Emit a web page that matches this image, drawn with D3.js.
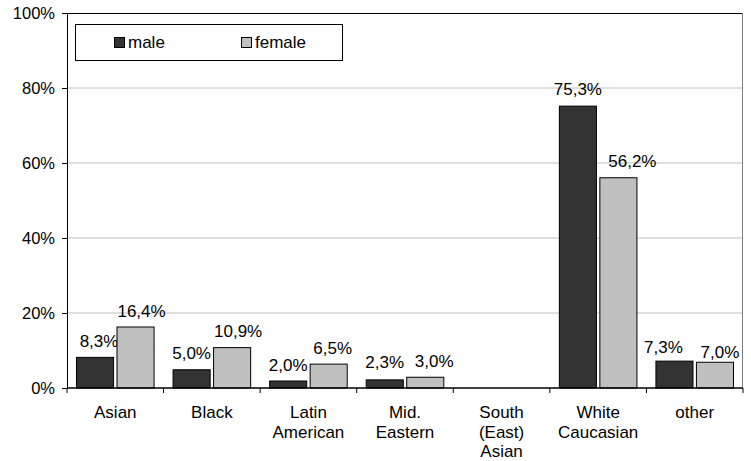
<!DOCTYPE html>
<html>
<head>
<meta charset="utf-8">
<script src="https://cdn.jsdelivr.net/npm/d3@7"></script>
<style>
  body { margin: 0; background: #fff; }
  svg text { font-family: "Liberation Sans", Arial, sans-serif; font-size: 17px; fill: #000; }
</style>
</head>
<body>
<svg id="chart" width="751" height="461"></svg>
<script>
// categories and values (percent)
const categories = [["Asian"], ["Black"], ["Latin", "American"], ["Mid.", "Eastern"], ["South", "(East)", "Asian"], ["White", "Caucasian"], ["other"]];
const seriesNames = ["male", "female"];
const maleValues = [8.3, 5.0, 2.0, 2.3, null, 75.3, 7.3];
const femaleValues = [16.4, 10.9, 6.5, 3.0, null, 56.2, 7.0];
const yTicks = [0, 20, 40, 60, 80, 100];
const colors = { male: "#333333", female: "#c0c0c0" };
// small hand-placed label nudges, as in the original [dx, dy]
const labelNudge = {
    male: [[4, 0], [0, 0], [0, 0], [0, -1], null, [0, -1], [-11, 2]],
    female: [[6, 0], [6, 0], [4, 0], [9, 0], null, [14, 0], [5, 6]]
};

const svg = d3.select("#chart");
const margin = { left: 67, top: 13, right: 8, bottom: 73 };
const W = 751, H = 461;
const plotW = W - margin.left - margin.right;
const plotH = H - margin.top - margin.bottom;

const g = svg.append("g").attr("transform", "translate(" + margin.left + "," + margin.top + ")");

const x = d3.scaleBand()
    .domain(categories.map((c, i) => i))
    .range([0, plotW])
    .paddingInner(0)
    .paddingOuter(0);
const xInner = d3.scaleBand()
    .domain(seriesNames)
    .range([9, x.bandwidth() - 9])
    .paddingInner(0.06);
const y = d3.scaleLinear().domain([0, 100]).range([plotH, 0]);

// gridlines
g.append("g").selectAll("line")
    .data(yTicks.filter(t => t > 0 && t < 100))
    .enter().append("line")
    .attr("x1", 0).attr("x2", plotW)
    .attr("y1", d => y(d)).attr("y2", d => y(d))
    .attr("stroke", "#c0c0c0").attr("stroke-width", 1);

// plot border (top black, right gray)
g.append("line").attr("x1", 0).attr("x2", plotW).attr("y1", 0.5).attr("y2", 0.5)
    .attr("stroke", "#000");
g.append("line").attr("x1", plotW - 0.5).attr("x2", plotW - 0.5).attr("y1", 0).attr("y2", plotH)
    .attr("stroke", "#808080");

// bars
const rows = categories.map((c, i) => ({ i: i, male: maleValues[i], female: femaleValues[i] }));
const groups = g.selectAll(".cat").data(rows).enter().append("g")
    .attr("transform", d => "translate(" + x(d.i) + ",0)");
seriesNames.forEach(s => {
    const filtered = groups.filter(d => d[s] != null);
    filtered.append("rect")
        .attr("x", xInner(s) + 0.5)
        .attr("y", d => y(d[s]) + 0.5)
        .attr("width", xInner.bandwidth() - 1)
        .attr("height", d => plotH - y(d[s]) - 0.5)
        .attr("fill", colors[s])
        .attr("stroke", "#000").attr("stroke-width", 1);
    filtered.append("text")
        .attr("x", d => xInner(s) + xInner.bandwidth() / 2 + labelNudge[s][d.i][0])
        .attr("y", d => y(d[s]) - 10 + labelNudge[s][d.i][1])
        .attr("text-anchor", "middle")
        .text(d => d[s].toFixed(1).replace(".", ",") + "%");
});

// y axis
const yAxis = g.append("g")
    .call(d3.axisLeft(y).tickValues(yTicks).tickSize(5).tickPadding(7).tickFormat(d => d + "%"));
yAxis.select(".domain").attr("stroke", "#000");
yAxis.selectAll("text").style("font-size", "16.5px");

// x axis
const xAxis = g.append("g").attr("transform", "translate(0," + plotH + ")");
xAxis.append("line").attr("x1", 0).attr("x2", plotW).attr("y1", 0).attr("y2", 0).attr("stroke", "#000").attr("stroke-width", 1.3);
xAxis.selectAll(".tk").data(d3.range(categories.length + 1)).enter().append("line")
    .attr("x1", d => d * x.step()).attr("x2", d => d * x.step())
    .attr("y1", 0).attr("y2", 5).attr("stroke", "#000");
const xl = xAxis.selectAll(".xl").data(categories).enter().append("text")
    .attr("text-anchor", "middle")
    .attr("x", (d, i) => x(i) + x.bandwidth() / 2)
    .attr("y", 30);
xl.selectAll("tspan").data(d => d).enter().append("tspan")
    .attr("x", function() { return this.parentNode.getAttribute("x"); })
    .attr("dy", (d, i) => i === 0 ? 0 : 19.5)
    .text(d => d);

// legend
const lg = svg.append("g");
lg.append("rect").attr("x", 75.5).attr("y", 24.5).attr("width", 267).attr("height", 36)
    .attr("fill", "#fff").attr("stroke", "#000");
const legendX = { male: 114, female: 241 };
seriesNames.forEach(s => {
    lg.append("rect").attr("x", legendX[s] + 0.5).attr("y", 37.5).attr("width", 10).attr("height", 10)
        .attr("fill", colors[s]).attr("stroke", "#000");
    lg.append("text").attr("x", legendX[s] + 14).attr("y", 48).text(s);
});
</script>
</body>
</html>
